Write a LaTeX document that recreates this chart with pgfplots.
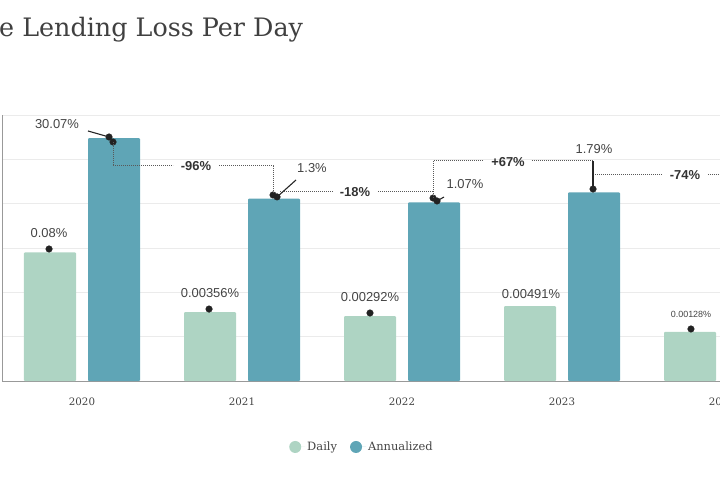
\documentclass[border=0pt]{standalone}
\usepackage{fontspec}
\setmainfont{Liberation Sans}
\newfontfamily\slab{DejaVu Serif}
\usepackage{pgfplots}
\pgfplotsset{compat=1.18}
\definecolor{daily}{HTML}{AED4C3}
\definecolor{annual}{HTML}{5FA5B6}
\definecolor{grd}{HTML}{EBEBEB}
\definecolor{lbl}{HTML}{444444}
\definecolor{dotc}{HTML}{222222}
\begin{document}
\begin{tikzpicture}
\useasboundingbox (0,0) rectangle (720bp,480bp);
\clip (0,0) rectangle (720bp,480bp);
\begin{axis}[
  at={(2bp,99bp)}, anchor=south west, scale only axis,
  width=800bp, height=266bp,
  xmin=-0.5, xmax=4.5,
  ymode=log, ymin=1e-4, ymax=100, log origin=infty,
  ytick={1e-4,1e-3,1e-2,1e-1,1,10,100}, yticklabels={},
  ymajorgrids, grid style={draw=grd, line width=0.8bp},
  xtick={0,1,2,3,4}, xticklabels={2020,2021,2022,2023,2024},
  xticklabel style={font=\slab\fontsize{10.3}{12}\selectfont, text=lbl, anchor=center, yshift=-21bp},
  major tick length=0pt, minor tick length=0pt, tick style={draw=none},
  axis x line*=bottom, axis y line*=left,
  axis line style={-, draw=black!40, line width=1bp},
  legend style={at={(0.4500,-0.248)}, anchor=center, draw=none, fill=none,
    legend columns=2, font=\slab\fontsize{11.5}{14}\selectfont, text=lbl,
    /tikz/every even column/.append style={column sep=11bp}},
  legend cell align=left,
  legend image code/.code={\fill[#1] (0bp,0bp) circle (6bp); \path (-6bp,0bp) -- (10bp,0bp);},
]
\addplot[ybar, bar width=52bp, bar shift=0pt, fill=daily, draw=none, rounded corners=1bp]
  coordinates {(-0.2,0.08) (0.8,0.00356) (1.8,0.00292) (2.8,0.00491) (3.8,0.00128)};
\addlegendentry{Daily}
\addplot[ybar, bar width=52bp, bar shift=0pt, fill=annual, draw=none, rounded corners=1bp]
  coordinates {(0.2,30.07) (1.2,1.3) (2.2,1.07) (3.2,1.79) (4.2,0.465)};
\addlegendentry{Annualized}
% callout dots
\addplot[only marks, mark=*, mark size=3.3bp, dotc, forget plot]
  coordinates {(-0.206,0.095) (0.794,0.0042) (1.8,0.00342) (3.806,0.00149)};
\addplot[only marks, mark=*, mark size=3.3bp, dotc, forget plot]
  coordinates {(0.169,31.9) (0.194,24.6) (1.194,1.57) (1.219,1.42)
               (2.194,1.34) (2.219,1.15) (3.194,2.14)};
\end{axis}
% title (cropped at the left as in the reference)
\node[anchor=base west, inner sep=0pt, text=black!75, font=\slab\fontsize{25.5}{30}\selectfont]
  at (-1bp,443bp) {e Lending Loss Per Day};
\begin{scope}[x=1bp, y=-1bp, shift={(0bp,480bp)}]
  \tikzset{dl/.style={font=\fontsize{13}{15}\selectfont, text=lbl, inner sep=0pt},
           bl/.style={font=\bfseries\fontsize{13}{15}\selectfont, text=black!80, inner sep=0pt},
           dt/.style={draw=black!65, line width=1bp, dash pattern=on 1bp off 1bp}}
  % leaders
  \draw[black!85, line width=1.1bp] (88,131) -- (109,137);
  \draw[black!85, line width=1.1bp] (277,197) -- (296,180);
  \draw[black!85, line width=1.1bp] (437,201) -- (444,197);
  \draw[black!85, line width=1.3bp] (593,161) -- (593,189);
  % comparison connectors
  \draw[dt] (113,142) -- (113,166) -- (173,166);
  \draw[dt] (219,166) -- (273,166) -- (273,193);
  \draw[dt] (280,192) -- (333,192);
  \draw[dt] (378,192) -- (433,192);
  \draw[dt] (433,198) -- (433,161) -- (483,161);
  \draw[dt] (532,161) -- (593,161);
  \draw[dt] (595,175) -- (662,175);
  \draw[dt] (708,175) -- (740,175);
  % change labels
  \node[bl] at (196,166) {-96\%};
  \node[bl] at (355,192) {-18\%};
  \node[bl] at (508,162) {+67\%};
  \node[bl] at (685,175) {-74\%};
  % value labels
  \node[dl] at (57,124) {30.07\%};
  \node[dl] at (312,168) {1.3\%};
  \node[dl] at (465,184) {1.07\%};
  \node[dl] at (594,149) {1.79\%};
  \node[dl] at (49,233) {0.08\%};
  \node[dl] at (210,293) {0.00356\%};
  \node[dl] at (370,297) {0.00292\%};
  \node[dl] at (531,294) {0.00491\%};
  \node[dl, font=\fontsize{9}{11}\selectfont] at (691,314) {0.00128\%};
\end{scope}
\end{tikzpicture}
\end{document}
